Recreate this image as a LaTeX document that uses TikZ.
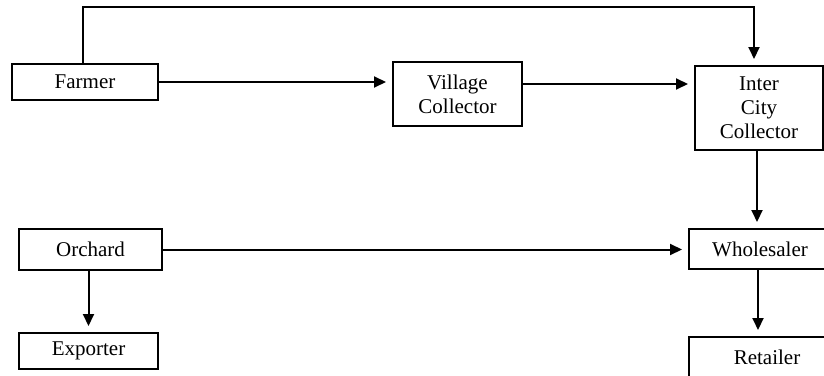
\documentclass[tikz,border=0pt]{standalone}
\usepackage{fontspec}
\setmainfont{Liberation Serif}
\usetikzlibrary{arrows.meta}
\begin{document}
\begin{tikzpicture}[x=0.5pt,y=-0.5pt,
  box/.style={draw,line width=1pt,inner sep=0pt,align=center,font=\fontsize{10.5}{12}\selectfont},
  arr/.style={line width=1pt,-{Triangle[length=6pt,width=5.5pt]},shorten >=3pt}]
\useasboundingbox (0,0) rectangle (824,375);
\clip (0,0) rectangle (824,375);
\node[box,minimum width=73pt,minimum height=18pt] (farmer) at (85,82) {Farmer};
\node[box,minimum width=64.5pt,minimum height=32pt] (village) at (457.5,94) {Village\\Collector};
\node[box,minimum width=64pt,minimum height=42pt] (inter) at (759,108) {Inter\\City\\Collector};
\node[box,minimum width=71pt,minimum height=20pt] (whole) at (760,249) {Wholesaler};
\node[box,minimum width=71.5pt,minimum height=20.5pt] (orchard) at (90.5,249.5) {Orchard};
\node[box,minimum width=69.5pt,minimum height=18pt] (exporter) at (88.5,351) {Exporter};
\node[box,minimum width=78pt,minimum height=20pt] (retailer) at (767,357) {Retailer};
\draw[arr] ([xshift=-1pt]farmer.north) -- ++(0,-56) -| ([xshift=-2.5pt]inter.north);
\draw[arr] (farmer.east) -- (farmer.east -| village.west);
\draw[arr] ([yshift=5pt]village.east) -- ([yshift=5pt]village.east -| inter.west);
\draw[arr] ([xshift=-1pt]inter.south) -- ([xshift=-1pt]inter.south |- whole.north);
\draw[arr] (orchard.east) -- (orchard.east -| whole.west);
\draw[arr] ([xshift=-1pt]orchard.south) -- ([xshift=-1pt]orchard.south |- exporter.north);
\draw[arr] ([xshift=-1pt]whole.south) -- ([xshift=-1pt]whole.south |- retailer.north);
\end{tikzpicture}
\end{document}
